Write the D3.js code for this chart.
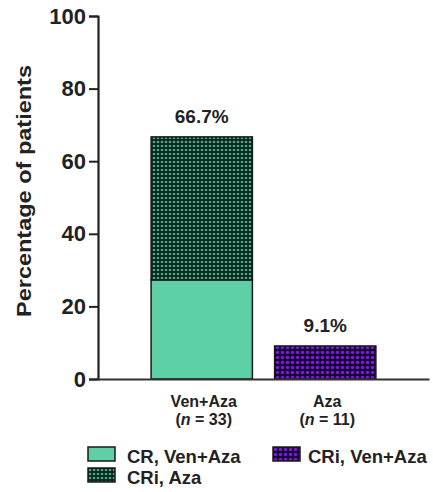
<!DOCTYPE html>
<html><head><meta charset="utf-8">
<script src="https://cdn.jsdelivr.net/npm/d3@7"></script>
<style>body{margin:0;background:#fff}svg{display:block}text{font-family:"Liberation Sans",Arial,sans-serif}</style>
</head><body><svg id="c" width="433" height="492"></svg>
<script>
const categories = ["Ven+Aza", "Aza"];
const nLabels = ["33", "11"];
const crValues = [27.3, 0];        // CR, Ven+Aza (solid)
const criAzaValues = [39.4, 0];    // CRi, Aza (dark teal pattern)
const criVenAzaValues = [0, 9.1];  // CRi, Ven+Aza (purple pattern)
const totalLabels = ["66.7%", "9.1%"];
const yTicks = [0, 20, 40, 60, 80, 100];
const seriesNames = ["CR, Ven+Aza", "CRi, Aza", "CRi, Ven+Aza"];

const svg = d3.select("#c");
const defs = svg.append("defs");
function dotPattern(id, size, bg, dot, r){
  const p = defs.append("pattern").attr("id", id).attr("patternUnits","userSpaceOnUse")
    .attr("width", size).attr("height", size);
  p.append("rect").attr("width", size).attr("height", size).attr("fill", bg);
  p.append("circle").attr("cx", size/2).attr("cy", size/2).attr("r", r).attr("fill", dot);
}
dotPattern("pTeal", 4, "#0c211b", "#3fae85", 1.35);
dotPattern("pPurple", 5, "#140030", "#7a1ad8", 1.75);

const fills = ["#5fcfa6", "url(#pTeal)", "url(#pPurple)"];

const x = d3.scaleBand().domain(categories).range([98, 429]).paddingInner(0.18).paddingOuter(0.43);
const y = d3.scaleLinear().domain([0, 100]).range([379, 16]);

const rows = categories.map((c, i) => ({cat: c, s0: crValues[i], s1: criAzaValues[i], s2: criVenAzaValues[i]}));
const stack = d3.stack().keys(["s0", "s1", "s2"])(rows);

stack.forEach((layer, k) => {
  svg.append("g").selectAll("rect").data(layer.filter(d => d[1] - d[0] > 0)).join("rect")
    .attr("x", d => x(d.data.cat))
    .attr("width", x.bandwidth())
    .attr("y", d => y(d[1]))
    .attr("height", d => y(d[0]) - y(d[1]))
    .attr("fill", fills[k])
    .attr("stroke", "#1a1a1a").attr("stroke-width", 1.5);
});

// totals
svg.append("g").selectAll("text").data(rows).join("text")
  .attr("x", d => x(d.cat) + x.bandwidth()/2)
  .attr("y", d => y(d.s0 + d.s1 + d.s2) - 14)
  .attr("text-anchor", "middle").attr("font-weight", "bold").attr("font-size", 19).attr("fill", "#222")
  .text((d, i) => totalLabels[i]);

// y axis
const yAxis = svg.append("g").attr("transform", "translate(98,0)")
  .call(d3.axisLeft(y).tickValues(yTicks).tickSize(9).tickPadding(3));
yAxis.select(".domain").attr("stroke", "#222").attr("stroke-width", 2.2);
yAxis.selectAll(".tick line").attr("stroke", "#222").attr("stroke-width", 2);
yAxis.selectAll(".tick text").attr("font-size", 22).attr("font-weight", "bold").attr("fill", "#222")
  .attr("font-family", "Liberation Sans, Arial, sans-serif");

// x axis line
const xAxis = svg.append("g").attr("transform", "translate(0,379)")
  .call(d3.axisBottom(x).tickSize(0).tickFormat(""));
xAxis.select(".domain").attr("stroke", "#333").attr("stroke-width", 2.2);

// category labels
const cl = svg.append("g").selectAll("g").data(categories).join("g")
  .attr("transform", d => `translate(${x(d) + x.bandwidth()/2 + 2},0)`);
cl.append("text").attr("y", 407).attr("text-anchor", "middle").attr("font-weight", "bold")
  .attr("font-size", 16).attr("fill", "#222").text(d => d);
const t2 = cl.append("text").attr("y", 425).attr("text-anchor", "middle").attr("font-weight", "bold")
  .attr("font-size", 16).attr("fill", "#222");
t2.append("tspan").text("(");
t2.append("tspan").attr("font-style", "italic").text("n");
t2.append("tspan").text((d, i) => " = " + nLabels[i] + ")");

// y label
svg.append("text").attr("transform", "translate(31,191) rotate(-90)")
  .attr("text-anchor", "middle").attr("font-weight", "bold").attr("font-size", 20).attr("fill", "#222")
  .attr("textLength", 252).attr("lengthAdjust", "spacingAndGlyphs")
  .text("Percentage of patients");

// legend
const legendPos = [[88, 447], [88, 468], [273, 447]];
const lg = svg.append("g").selectAll("g").data(seriesNames).join("g")
  .attr("transform", (d, i) => `translate(${legendPos[i][0]},${legendPos[i][1]})`);
lg.append("rect").attr("width", 27).attr("height", 14).attr("fill", (d, i) => fills[i])
  .attr("stroke", "#1a1a1a").attr("stroke-width", 1.5);
lg.append("text").attr("x", (d, i) => i === 2 ? 35 : 39).attr("y", 16).attr("font-weight", "bold").attr("font-size", 18.5)
  .attr("fill", "#222").text(d => d);
</script></body></html>
